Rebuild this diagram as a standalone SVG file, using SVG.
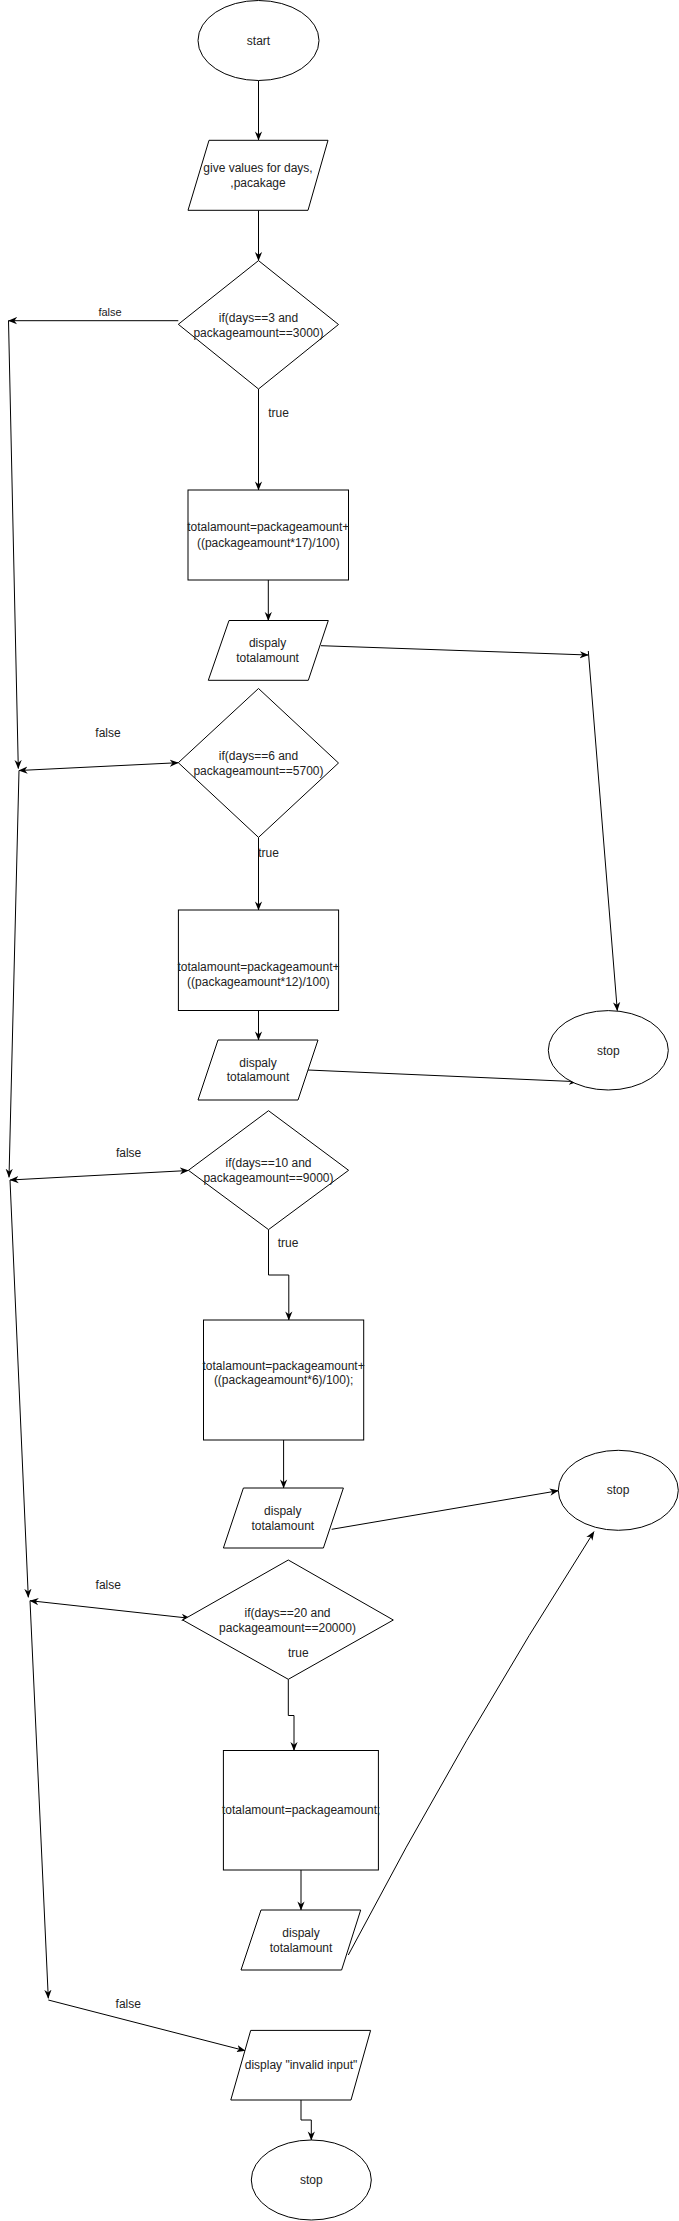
<svg xmlns="http://www.w3.org/2000/svg" width="679" height="2221" viewBox="0 0 679 2221">
<style>
.s{fill:#fff;stroke:#000;stroke-width:1}
.c{fill:none;stroke:#000;stroke-width:1}
.a{marker-end:url(#ah)}
.b{marker-start:url(#ah);marker-end:url(#ah)}
text{font-family:"Liberation Sans",Arial,Helvetica,sans-serif;font-size:12px;fill:#222;text-anchor:middle}
.f11{font-size:11px}
</style>
<defs>
<marker id="ah" viewBox="0 0 10 10" refX="9.5" refY="5" markerWidth="9" markerHeight="9" markerUnits="userSpaceOnUse" orient="auto-start-reverse">
<path d="M0,1 L10,5 L0,9 L3,5 z" fill="#000"/>
</marker>
</defs>
<rect width="679" height="2221" fill="#fff"/>
<g id="connectors">
<path class="c a" d="M258.5,80.5 L258.5,140"/>
<path class="c a" d="M258.5,210.3 L258.5,260.6"/>
<path class="c a" d="M178.3,320.7 L8.5,320.7"/>
<path class="c a" d="M258.5,389 L258.5,490"/>
<path class="c a" d="M8.5,320.7 L18.3,768.5"/>
<path class="c a" d="M268.3,580 L268.3,620.5"/>
<path class="c a" d="M321,645.7 L588.3,655"/>
<path class="c a" d="M588.3,651 L617.3,1010.7"/>
<path class="c b" d="M178.3,762.7 L19,770.5"/>
<path class="c a" d="M258.5,837.4 L258.5,910"/>
<path class="c a" d="M258.5,1010.5 L258.5,1040"/>
<path class="c a" d="M308,1070 L577.3,1081.7"/>
<path class="c a" d="M19,770.5 L9,1177.3"/>
<path class="c b" d="M188.4,1170.5 L10,1180"/>
<path class="c a" d="M268.5,1229.6 L268.5,1275 L288.8,1275 L288.8,1320"/>
<path class="c a" d="M283.6,1440 L283.6,1488"/>
<path class="c a" d="M331.7,1529.3 L558.3,1490.7"/>
<path class="c a" d="M10,1180 L28.3,1597.3"/>
<path class="c b" d="M190,1618.3 L30,1600.7"/>
<path class="c a" d="M288.3,1679.3 L288.3,1715.5 L294,1715.5 L294,1750.5"/>
<path class="c a" d="M301,1870 L301,1910"/>
<path class="c a" d="M348.3,1955 Q462,1738 594,1531.7"/>
<path class="c a" d="M30,1600.7 L48.3,1998.3"/>
<path class="c a" d="M48.3,2000 L245,2050.7"/>
<path class="c a" d="M301,2100 L301,2120 L311.3,2120 L311.3,2140"/>
<text x="110" y="315.5" class="f11">false</text>
<text x="278.5" y="417">true</text>
<text x="108" y="736.8">false</text>
<text x="268.5" y="856.7">true</text>
<text x="128.6" y="1156.8">false</text>
<text x="288" y="1246.8">true</text>
<text x="108.3" y="1589">false</text>
<text x="128.3" y="2008.3">false</text>
</g>
<g id="start">
<ellipse class="s" cx="258.5" cy="40.5" rx="60.5" ry="40"/>
<text x="258.5" y="44.5">start</text>
</g>
<g id="input">
<polygon class="s" points="209,140.3 328,140.3 308,210.3 188,210.3"/>
<text x="258" y="172">give values for days,</text>
<text x="258" y="187">,pacakage</text>
</g>
<g id="decision1">
<polygon class="s" points="258.5,260.6 338.5,324.5 258.5,389 178.3,324.3"/>
<text x="258.5" y="321.7">if(days==3 and</text>
<text x="258.5" y="336.7">packageamount==3000)</text>
</g>
<g id="process1">
<rect class="s" x="188" y="490" width="160.5" height="90"/>
<text x="268.3" y="531">totalamount=packageamount+</text>
<text x="268.3" y="546.6">((packageamount*17)/100)</text>
</g>
<g id="display1">
<polygon class="s" points="229,620.5 328.3,620.5 308.3,680.3 208.3,680.3"/>
<text x="267.6" y="646.8">dispaly</text>
<text x="267.6" y="661.8">totalamount</text>
</g>
<g id="decision2">
<polygon class="s" points="258.5,688.5 338.5,763 258.5,837.4 178.3,762.7"/>
<text x="258.5" y="759.6">if(days==6 and</text>
<text x="258.5" y="774.6">packageamount==5700)</text>
</g>
<g id="process2">
<rect class="s" x="178.4" y="910" width="160.2" height="100.5"/>
<text x="258.5" y="971">totalamount=packageamount+</text>
<text x="258.5" y="986">((packageamount*12)/100)</text>
</g>
<g id="display2">
<polygon class="s" points="218,1040 318,1040 298,1100 198,1100"/>
<text x="258" y="1066.7">dispaly</text>
<text x="258" y="1081.3">totalamount</text>
</g>
<g id="stop1">
<ellipse class="s" cx="608.3" cy="1050.3" rx="60" ry="39.7"/>
<text x="608.3" y="1054.5">stop</text>
</g>
<g id="decision3">
<polygon class="s" points="268.5,1110.7 348.6,1170.3 268.5,1229.6 188.4,1170.3"/>
<text x="268.5" y="1166.8">if(days==10 and</text>
<text x="268.5" y="1181.8">packageamount==9000)</text>
</g>
<g id="process3">
<rect class="s" x="203.5" y="1320" width="160.2" height="120"/>
<text x="283.6" y="1370">totalamount=packageamount+</text>
<text x="283.6" y="1384.2">((packageamount*6)/100);</text>
</g>
<g id="display3">
<polygon class="s" points="243.4,1488 343.4,1488 323.4,1548 223.4,1548"/>
<text x="282.8" y="1514.6">dispaly</text>
<text x="282.8" y="1529.6">totalamount</text>
</g>
<g id="stop2">
<ellipse class="s" cx="618.3" cy="1490.3" rx="60" ry="40"/>
<text x="618" y="1494">stop</text>
</g>
<g id="decision4">
<polygon class="s" points="288.3,1560 393.3,1620 288.3,1679.3 182.7,1620"/>
<text x="287.5" y="1617.3">if(days==20 and</text>
<text x="287.5" y="1631.7">packageamount==20000)</text>
<text x="298.3" y="1656.7">true</text>
</g>
<g id="process4">
<rect class="s" x="223.4" y="1750.5" width="155" height="119.5"/>
<text x="301.2" y="1814">totalamount=packageamount;</text>
</g>
<g id="display4">
<polygon class="s" points="261,1910 360.7,1910 341.6,1970 241,1970"/>
<text x="301" y="1936.8">dispaly</text>
<text x="301" y="1951.8">totalamount</text>
</g>
<g id="invalid">
<polygon class="s" points="250.7,2030.4 370.6,2030.4 351,2100 230.8,2100"/>
<text x="301" y="2069">display "invalid input"</text>
</g>
<g id="stop3">
<ellipse class="s" cx="311.3" cy="2180" rx="60" ry="40"/>
<text x="311.3" y="2184">stop</text>
</g>
</svg>
